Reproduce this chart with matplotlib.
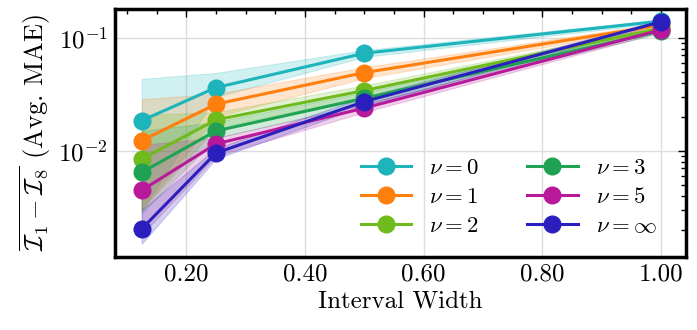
import matplotlib
matplotlib.use("Agg")
import matplotlib.pyplot as plt
from matplotlib.ticker import FixedLocator, MultipleLocator, LogLocator, NullFormatter, FormatStrFormatter
import numpy as np

plt.rcParams['font.family'] = ['cmr10', 'DejaVu Serif']
plt.rcParams['mathtext.fontset'] = 'cm'
plt.rcParams['axes.unicode_minus'] = False
plt.rcParams['axes.formatter.use_mathtext'] = True

widths = [0.125, 0.25, 0.5, 1.0]
labels = [r'$\nu=0$', r'$\nu=1$', r'$\nu=2$', r'$\nu=3$', r'$\nu=5$', r'$\nu=\infty$']
colors = ['#1db4bb', '#ff7f0e', '#6fba1c', '#1fa254', '#b8199b', '#2a1fbd']

nu0 = [0.0185, 0.0363, 0.0732, 0.141]
nu1 = [0.0123, 0.0259, 0.0493, 0.130]
nu2 = [0.00843, 0.0188, 0.0342, 0.122]
nu3 = [0.00643, 0.0150, 0.0292, 0.115]
nu5 = [0.00446, 0.0115, 0.0239, 0.118]
nuinf = [0.00203, 0.00955, 0.0273, 0.139]

lo0 = [0.0030, 0.0300, 0.0680, 0.136]
hi0 = [0.0434, 0.0490, 0.0780, 0.146]
lo1 = [0.0030, 0.0200, 0.0440, 0.125]
hi1 = [0.0286, 0.0320, 0.0550, 0.135]
lo2 = [0.0030, 0.0160, 0.0300, 0.117]
hi2 = [0.0208, 0.0220, 0.0380, 0.127]
lo3 = [0.0028, 0.0130, 0.0260, 0.110]
hi3 = [0.0150, 0.0180, 0.0330, 0.120]
lo5 = [0.0018, 0.0090, 0.0220, 0.113]
hi5 = [0.0113, 0.0130, 0.0260, 0.123]
loinf = [0.00150, 0.0085, 0.0250, 0.134]
hiinf = [0.00300, 0.0105, 0.0300, 0.144]

series = [nu0, nu1, nu2, nu3, nu5, nuinf]
lows = [lo0, lo1, lo2, lo3, lo5, loinf]
highs = [hi0, hi1, hi2, hi3, hi5, hiinf]

fig = plt.figure(figsize=(6.97, 3.30), dpi=100)
ax = fig.add_axes([0.165, 0.222, 0.819, 0.751])

for y, lo, hi, c, lab in zip(series, lows, highs, colors, labels):
    ax.fill_between(widths, lo, hi, color=c, alpha=0.2, linewidth=0.8)
    ax.plot(widths, y, '-o', color=c, lw=2.2, ms=12, label=lab)

ax.set_yscale('log')
ax.set_xlim(0.080, 1.042)
ax.set_ylim(0.00115, 0.181)

ax.xaxis.set_major_locator(FixedLocator([0.2, 0.4, 0.6, 0.8, 1.0]))
ax.xaxis.set_major_formatter(FormatStrFormatter('%.2f'))
ax.xaxis.set_minor_locator(MultipleLocator(0.05))
ax.yaxis.set_major_locator(LogLocator(base=10))
ax.yaxis.set_minor_locator(LogLocator(base=10, subs=np.arange(2, 10)))
ax.yaxis.set_minor_formatter(NullFormatter())

ax.grid(True, which='major', color='#dddddd', lw=1.0)
ax.set_axisbelow(True)

ax.tick_params(which='both', direction='in', top=True, right=True, bottom=False, left=False,
               labeltop=False, labelright=False, labelbottom=True, labelleft=True, color='black')
ax.tick_params(which='major', length=6, width=1.0, labelsize=18, pad=5)
ax.tick_params(which='minor', length=3.5, width=1.0)

for s in ax.spines.values():
    s.set_linewidth(2.5)
    s.set_color('black')

ax.set_xlabel('Interval Width', fontsize=18, labelpad=3)
ax.set_ylabel(r'$\overline{\mathcal{I}_1 - \mathcal{I}_8}$ (Avg. MAE)', fontsize=19, labelpad=4)

ax.legend(loc='lower right', ncol=2, frameon=False, fontsize=16.5, handlelength=2.2,
          columnspacing=2.1, handletextpad=0.8, labelspacing=0.4,
          bbox_to_anchor=(0.985, 0.0))

fig.savefig('out.png', dpi=100)
